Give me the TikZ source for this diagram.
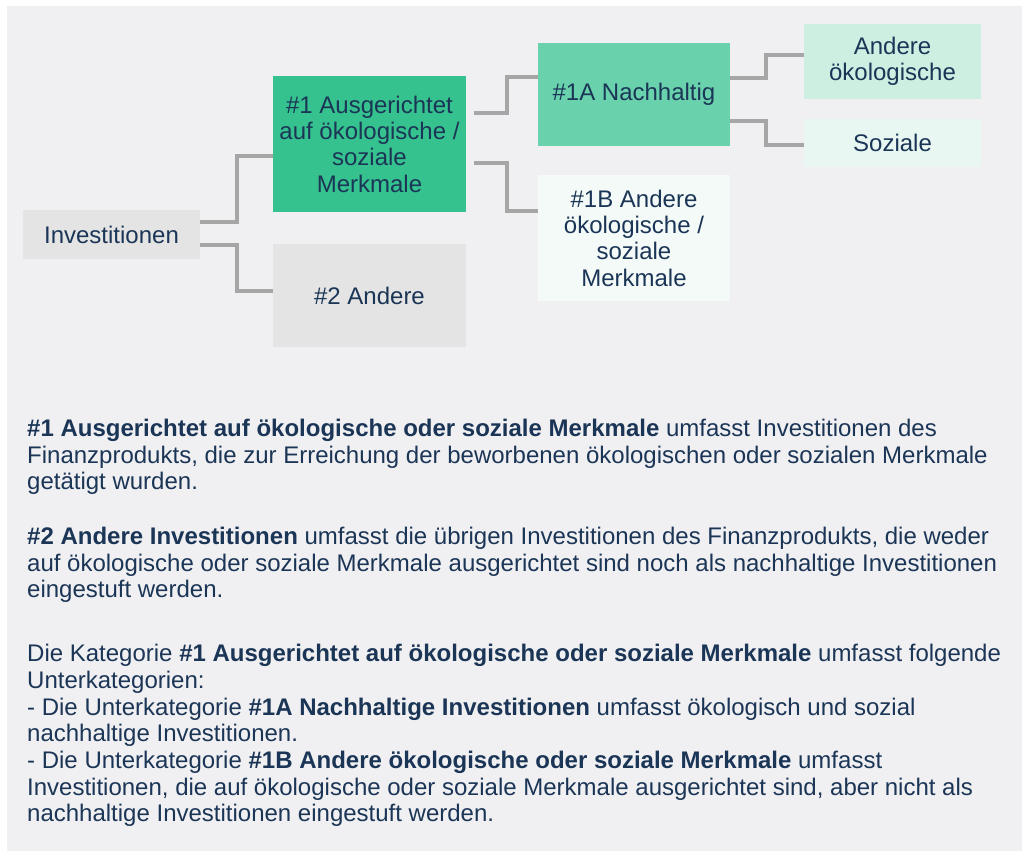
\documentclass[tikz,border=0pt]{standalone}
\usepackage{fontspec}
\setmainfont{Liberation Sans}
\definecolor{bg}{HTML}{F0F0F2}
\definecolor{grayb}{HTML}{E4E4E4}
\definecolor{gone}{HTML}{36C28F}
\definecolor{gonea}{HTML}{69D2AD}
\definecolor{goneb}{HTML}{F4FAF8}
\definecolor{gak}{HTML}{CDEFE2}
\definecolor{gsoz}{HTML}{E8F7F1}
\definecolor{lin}{HTML}{A6A6A6}
\definecolor{txt}{HTML}{1B3556}
\begin{document}
\begin{tikzpicture}[x=1pt,y=-1pt,
  box/.style={rectangle, inner sep=0pt, text=txt, align=center, font=\fontsize{24}{26.3}\selectfont},
  conn/.style={draw=lin, line width=4pt},
  para/.style={anchor=north west, inner sep=0pt, text=txt, align=left, font=\fontsize{24}{26.7}\selectfont}]
\useasboundingbox (0,0) rectangle (1022,851);
\fill[bg] (7,6) rectangle (1022,851);
% nodes
\node[box, fill=grayb, minimum width=177pt, minimum height=49pt] (inv) at (111.5,234.5) {Investitionen};
\node[box, fill=gone, minimum width=193pt, minimum height=136pt] (n1) at (369.5,144) {\#1 Ausgerichtet\\auf ökologische /\\soziale\\Merkmale};
\node[box, fill=grayb, minimum width=193pt, minimum height=103pt] (n2) at (369.5,295.5) {\#2 Andere};
\node[box, fill=gonea, minimum width=192pt, minimum height=103pt] (n1a) at (634,94.5) {\#1A Nachhaltig};
\node[box, fill=goneb, minimum width=192pt, minimum height=126pt] (n1b) at (634,238) {\#1B Andere\\ökologische /\\soziale\\Merkmale};
\node[box, fill=gak, minimum width=177pt, minimum height=75pt] (ak) at (892.5,61.5) {Andere\\ökologische};
\node[box, fill=gsoz, minimum width=177pt, minimum height=48pt] (soz) at (892.5,143) {Soziale};
% connectors
\draw[conn] ([yshift=12.5pt]inv.east) -- ++(37,0) |- ([yshift=-12pt]n1.west);
\draw[conn] ([yshift=-10.5pt]inv.east) -- ++(37,0) |- ([yshift=4.5pt]n2.west);
\draw[conn] ([xshift=8pt,yshift=31pt]n1.east) -- ++(33,0) |- ([yshift=17.5pt]n1a.west);
\draw[conn] ([xshift=8pt,yshift=-19pt]n1.east) -- ++(33,0) |- ([yshift=27pt]n1b.west);
\draw[conn] ([yshift=16.5pt]n1a.east) -- ++(36,0) |- ([yshift=6.5pt]ak.west);
\draw[conn] ([yshift=-26.5pt]n1a.east) -- ++(36,0) |- ([yshift=-2pt]soz.west);
% text
\node[para] (p1) at (27,419) {\textbf{\#1 Ausgerichtet auf ökologische oder soziale Merkmale} umfasst Investitionen des\\Finanzprodukts, die zur Erreichung der beworbenen ökologischen oder sozialen Merkmale\\getätigt wurden.};
\node[para] (p2) at (27,527) {\textbf{\#2 Andere Investitionen} umfasst die übrigen Investitionen des Finanzprodukts, die weder\\auf ökologische oder soziale Merkmale ausgerichtet sind noch als nachhaltige Investitionen\\eingestuft werden.};
\node[para] (p3) at (27,644) {Die Kategorie \textbf{\#1 Ausgerichtet auf ökologische oder soziale Merkmale} umfasst folgende\\Unterkategorien:\\- Die Unterkategorie \textbf{\#1A Nachhaltige Investitionen} umfasst ökologisch und sozial\\nachhaltige Investitionen.\\- Die Unterkategorie \textbf{\#1B Andere ökologische oder soziale Merkmale} umfasst\\Investitionen, die auf ökologische oder soziale Merkmale ausgerichtet sind, aber nicht als\\nachhaltige Investitionen eingestuft werden.};
\end{tikzpicture}
\end{document}
